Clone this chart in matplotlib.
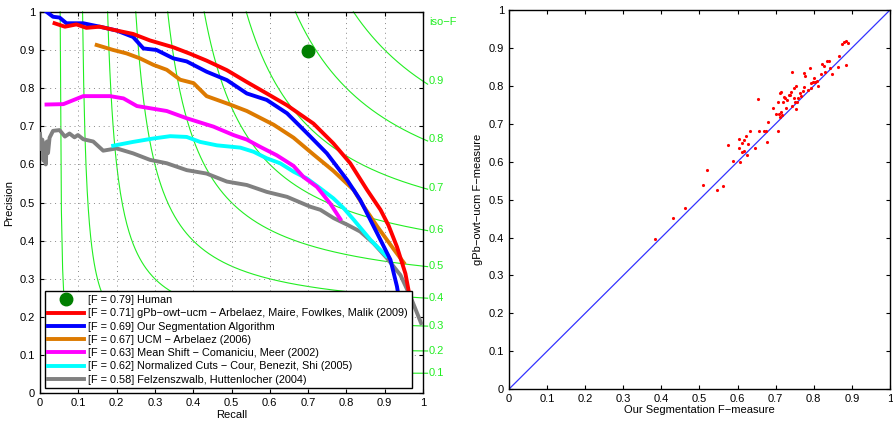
#!/usr/bin/env python3
# precision/recall curves on the left, per-image F-measure scatter on the right
import numpy as np
import matplotlib
matplotlib.use('Agg')
import matplotlib.pyplot as plt
import matplotlib.ticker as mtick

plt.rcParams['font.family'] = ['Liberation Sans', 'DejaVu Sans']
plt.rcParams['font.size'] = 8

# ---- left plot data (recall, precision) ----
human_r = [0.70]
human_p = [0.898]

gpb_r = [0.038, 0.065, 0.095, 0.121, 0.156, 0.200, 0.243, 0.287, 0.348, 0.392, 0.435, 0.488,
         0.540, 0.592, 0.645, 0.714, 0.766, 0.810, 0.854, 0.889, 0.910, 0.932, 0.954, 0.967]
gpb_p = [0.970, 0.961, 0.967, 0.958, 0.961, 0.951, 0.942, 0.925, 0.907, 0.890, 0.872, 0.847,
         0.816, 0.786, 0.755, 0.707, 0.655, 0.603, 0.533, 0.481, 0.440, 0.384, 0.314, 0.245]

ours_r = [0.017, 0.034, 0.051, 0.069, 0.113, 0.156, 0.200, 0.243, 0.270, 0.304, 0.348, 0.383,
          0.435, 0.488, 0.540, 0.592, 0.645, 0.697, 0.749, 0.802, 0.836, 0.880, 0.915, 0.932, 0.937]
ours_p = [1.000, 0.987, 0.985, 0.970, 0.970, 0.961, 0.951, 0.934, 0.904, 0.900, 0.878, 0.870,
          0.843, 0.821, 0.786, 0.769, 0.734, 0.682, 0.629, 0.559, 0.507, 0.420, 0.350, 0.280, 0.250]

ucm_r = [0.148, 0.191, 0.226, 0.261, 0.296, 0.331, 0.366, 0.401, 0.435, 0.496, 0.540, 0.610,
         0.662, 0.714, 0.766, 0.819, 0.845, 0.880, 0.924, 0.950]
ucm_p = [0.913, 0.900, 0.891, 0.878, 0.861, 0.848, 0.822, 0.813, 0.779, 0.757, 0.740, 0.704,
         0.670, 0.626, 0.583, 0.533, 0.490, 0.438, 0.377, 0.342]

ms_r = [0.017, 0.061, 0.113, 0.183, 0.218, 0.253, 0.331, 0.383, 0.453, 0.505, 0.540, 0.575,
        0.618, 0.662, 0.688, 0.723, 0.758, 0.784]
ms_p = [0.757, 0.758, 0.779, 0.779, 0.773, 0.753, 0.740, 0.721, 0.699, 0.677, 0.665, 0.646,
        0.624, 0.596, 0.567, 0.541, 0.497, 0.457]

nc_r = [0.191, 0.243, 0.296, 0.340, 0.383, 0.418, 0.462, 0.523, 0.558, 0.592, 0.627, 0.662,
        0.697, 0.732, 0.766, 0.793, 0.819, 0.863, 0.904]
nc_p = [0.649, 0.659, 0.668, 0.674, 0.672, 0.659, 0.650, 0.644, 0.633, 0.616, 0.603, 0.581,
        0.563, 0.537, 0.511, 0.485, 0.455, 0.402, 0.360]

fh_r = [0.000, 0.003, 0.006, 0.009, 0.012, 0.015, 0.018, 0.021, 0.025, 0.034, 0.051, 0.065,
        0.077, 0.090, 0.099, 0.113, 0.139, 0.165, 0.200, 0.243, 0.287, 0.331, 0.383, 0.435,
        0.488, 0.540, 0.592, 0.645, 0.706, 0.732, 0.767, 0.802, 0.836, 0.871, 0.906, 0.941,
        0.967, 0.995]
fh_p = [0.680, 0.640, 0.665, 0.610, 0.655, 0.600, 0.660, 0.630, 0.670, 0.688, 0.690, 0.673,
        0.681, 0.671, 0.677, 0.666, 0.660, 0.636, 0.642, 0.629, 0.612, 0.603, 0.585, 0.576,
        0.555, 0.546, 0.528, 0.515, 0.489, 0.481, 0.459, 0.442, 0.424, 0.393, 0.354, 0.310,
        0.254, 0.184]

iso_f = [0.1, 0.2, 0.3, 0.4, 0.5, 0.6, 0.7, 0.8, 0.9]

labels = ['[F = 0.79] Human',
          '[F = 0.71] gPb\u2212owt\u2212ucm \u2212 Arbelaez, Maire, Fowlkes, Malik (2009)',
          '[F = 0.69] Our Segmentation Algorithm',
          '[F = 0.67] UCM \u2212 Arbelaez (2006)',
          '[F = 0.63] Mean Shift \u2212 Comaniciu, Meer (2002)',
          '[F = 0.62] Normalized Cuts \u2212 Cour, Benezit, Shi (2005)',
          '[F = 0.58] Felzenszwalb, Huttenlocher (2004)']

# ---- right plot data (our F, gPb F) ----
ours_f = [0.382, 0.431, 0.461, 0.510, 0.521, 0.546, 0.561, 0.574, 0.589, 0.603, 0.603, 0.606,
          0.612, 0.617, 0.613, 0.618, 0.622, 0.625, 0.627, 0.634, 0.646, 0.655, 0.656, 0.670,
          0.674, 0.678, 0.681, 0.694, 0.700, 0.705, 0.706, 0.708, 0.711, 0.714, 0.713, 0.712,
          0.716, 0.719, 0.722, 0.725, 0.726, 0.731, 0.735, 0.738, 0.740, 0.743, 0.742, 0.747,
          0.748, 0.750, 0.753, 0.754, 0.756, 0.759, 0.764, 0.767, 0.771, 0.775, 0.777, 0.775,
          0.784, 0.789, 0.792, 0.793, 0.798, 0.801, 0.804, 0.808, 0.810, 0.819, 0.822, 0.826,
          0.829, 0.834, 0.841, 0.844, 0.848, 0.863, 0.867, 0.874, 0.879, 0.886, 0.890, 0.885]
gpb_f = [0.395, 0.452, 0.479, 0.538, 0.579, 0.526, 0.535, 0.645, 0.601, 0.660, 0.637, 0.599,
         0.649, 0.657, 0.626, 0.628, 0.668, 0.618, 0.647, 0.682, 0.636, 0.765, 0.682, 0.682,
         0.680, 0.652, 0.704, 0.741, 0.726, 0.757, 0.682, 0.727, 0.782, 0.785, 0.730, 0.718,
         0.723, 0.758, 0.770, 0.767, 0.742, 0.763, 0.777, 0.776, 0.785, 0.838, 0.747, 0.795,
         0.767, 0.757, 0.799, 0.738, 0.758, 0.767, 0.782, 0.774, 0.787, 0.834, 0.826, 0.798,
         0.790, 0.846, 0.794, 0.809, 0.811, 0.820, 0.810, 0.813, 0.800, 0.832, 0.858, 0.853,
         0.838, 0.865, 0.867, 0.848, 0.832, 0.851, 0.879, 0.910, 0.916, 0.918, 0.914, 0.856]

green = '#22ee22'

fig = plt.figure(figsize=(8.93, 4.22), dpi=100)

# ================= left: PR curves =================
ax = fig.add_axes([0.0448, 0.068, 0.4289, 0.904])
for f in iso_f:
    r = np.linspace(f / (2 - f), 1.012, 300)
    p = f * r / (2 * r - f)
    ax.plot(r, p, color=green, lw=0.8, clip_on=False, zorder=1)
    ax.text(1.015, f / (2 - f), '%g' % f, color=green, fontsize=8, va='center', ha='left')
ax.text(1.015, 0.972, 'iso\u2212F', color=green, fontsize=8, va='center', ha='left')

lw = 2.8
h0, = ax.plot(human_r, human_p, 'o', color='#007f00', ms=9, zorder=5)
h6, = ax.plot(fh_r, fh_p, color='#808080', lw=lw, zorder=3)
h5, = ax.plot(nc_r, nc_p, color='#00ffff', lw=lw, zorder=3)
h4, = ax.plot(ms_r, ms_p, color='#ff00ff', lw=lw, zorder=3)
h3, = ax.plot(ucm_r, ucm_p, color='#dd7a00', lw=lw, zorder=3)
h2, = ax.plot(ours_r, ours_p, color='#0000ff', lw=lw, zorder=3)
h1, = ax.plot(gpb_r, gpb_p, color='#ff0000', lw=lw, zorder=3)

ax.set_xlim(0, 1)
ax.set_ylim(0, 1)
ax.set_xticks(np.arange(0, 1.01, 0.1))
ax.set_yticks(np.arange(0, 1.01, 0.1))
ax.xaxis.set_major_formatter(mtick.FormatStrFormatter('%g'))
ax.yaxis.set_major_formatter(mtick.FormatStrFormatter('%g'))
ax.grid(True, linestyle=(0, (1, 4)), color='#888888', lw=0.7)
ax.tick_params(direction='in', top=True, right=True, length=3, labelsize=8)
ax.set_xlabel('Recall', fontsize=8, labelpad=1)
ax.set_ylabel('Precision', fontsize=8, labelpad=4)
for s in ax.spines.values():
    s.set_linewidth(1)

leg = ax.legend([h0, h1, h2, h3, h4, h5, h6], labels, loc='lower left',
                bbox_to_anchor=(0.012, 0.013), borderaxespad=0, fontsize=7.8,
                handlelength=3.3, handletextpad=0.4, labelspacing=0.3,
                borderpad=0.35, fancybox=False, framealpha=1, edgecolor='black')
leg.get_frame().set_linewidth(1)
leg.set_zorder(10)

# ================= right: F-measure scatter =================
ax2 = fig.add_axes([0.570, 0.078, 0.4265, 0.898])
ax2.plot([0, 1], [0, 1], color='#3333ff', lw=0.9)
ax2.plot(ours_f, gpb_f, '.', color='#ff0000', ms=2.5)
ax2.set_xlim(0, 1)
ax2.set_ylim(0, 1)
ax2.set_xticks(np.arange(0, 1.01, 0.1))
ax2.set_yticks(np.arange(0, 1.01, 0.1))
ax2.xaxis.set_major_formatter(mtick.FormatStrFormatter('%g'))
ax2.yaxis.set_major_formatter(mtick.FormatStrFormatter('%g'))
ax2.tick_params(direction='in', top=True, right=True, length=3, labelsize=8)
ax2.set_xlabel('Our Segmentation F\u2212measure', fontsize=8, labelpad=1)
ax2.set_ylabel('gPb\u2212owt\u2212ucm F\u2212measure', fontsize=8, labelpad=4)
for s in ax2.spines.values():
    s.set_linewidth(1)

fig.savefig('out.png', dpi=100)
